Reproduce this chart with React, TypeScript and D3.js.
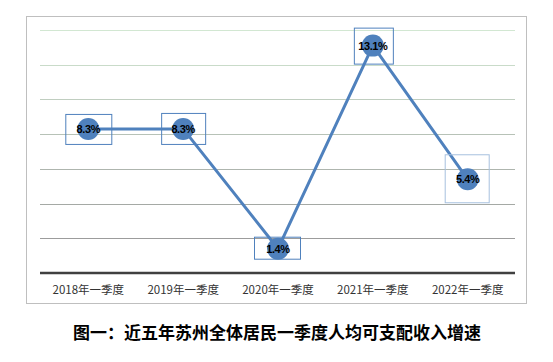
import React from "react";
import * as d3 from "d3";

const categories = ["2018年一季度", "2019年一季度", "2020年一季度", "2021年一季度", "2022年一季度"];
const growth = [8.3, 8.3, 1.4, 13.1, 5.4];
const yTicks = [0, 2, 4, 6, 8, 10, 12, 14];
const title = "图一：近五年苏州全体居民一季度人均可支配收入增速";

// label box geometry relative to point (style only)
const labelBoxes = [
  { l: -23, r: 23, t: -15, b: 15, c: "#4f81bd" },
  { l: -22, r: 22, t: -16, b: 15, c: "#4f81bd" },
  { l: -24, r: 22, t: -12, b: 10, c: "#4f81bd" },
  { l: -19, r: 20, t: -18, b: 18, c: "#4f81bd" },
  { l: -23, r: 21, t: -25, b: 23, c: "#a7c0de" },
];

export default function App() {
  const W = 553, H = 362;
  const x = d3.scalePoint<string>().domain(categories).range([88.3, 467.7]);
  const y = d3.scaleLinear().domain([0, 14]).range([273, 30]);
  const gridColor = d3.interpolateRgb("#d2e7d2", "#9c9c9c");
  const line = d3.line<number>().x((_, i) => x(categories[i])!).y((d) => y(d));
  return (
    <svg width={W} height={H} style={{ position: "absolute", left: 0, top: 0, background: "#fff" }}>
      <rect x={26.5} y={16.5} width={500} height={287} fill="#fff" stroke="#bfbfbf" strokeWidth={1} />
      {yTicks.filter((t) => t > 0).map((t) => (
        <line key={t} x1={40} x2={515} y1={Math.round(y(t)) + 0.5} y2={Math.round(y(t)) + 0.5}
          stroke={gridColor((14 - t) / 12)} strokeWidth={1} />
      ))}
      <line x1={40} x2={515} y1={y(0)} y2={y(0)} stroke="#404040" strokeWidth={2.5} />
      {categories.map((c) => (
        <text key={c} x={x(c)} y={294} textAnchor="middle" fontSize={11.5}
          fontFamily="'Noto Sans CJK SC', sans-serif" fill="#333">{c}</text>
      ))}
      <path d={line(growth)!} fill="none" stroke="#4f81bd" strokeWidth={3} strokeLinejoin="round" />
      {growth.map((v, i) => {
        const cx = x(categories[i])!, cy = y(v);
        const b = labelBoxes[i];
        return (
          <g key={i}>
            <circle cx={cx} cy={cy} r={11} fill="#4f81bd" />
            <rect x={cx + b.l + 0.5} y={cy + b.t + 0.5} width={b.r - b.l} height={b.b - b.t}
              fill="none" stroke={b.c} strokeWidth={1} />
            <text x={cx} y={cy + 4} textAnchor="middle" fontSize={11} fontWeight="bold"
              fontFamily="'Liberation Sans', Arial, sans-serif" fill="#000" letterSpacing={-0.4}>
              {v.toFixed(1)}%
            </text>
          </g>
        );
      })}
      <text x={277} y={339} textAnchor="middle" fontSize={17} fontWeight="bold"
        fontFamily="'Noto Sans CJK SC', sans-serif" fill="#000">{title}</text>
    </svg>
  );
}
